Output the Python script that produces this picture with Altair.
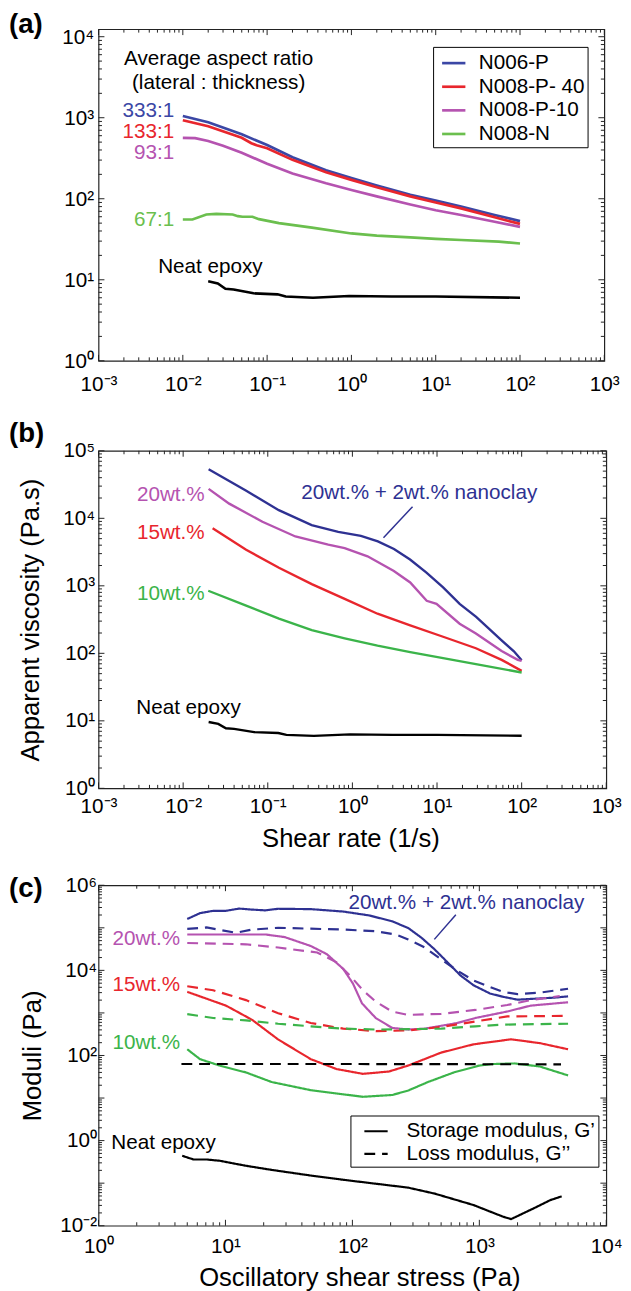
import altair as alt
import pandas as pd

FONT = "Liberation Sans"

# ---------------- colours ----------------
NAVY = "#2e3192"
BLUE_A = "#3b47a5"
RED = "#e8262d"
MAGENTA = "#b553b0"
GREEN_A = "#6bbf4e"
GREEN = "#3bb44a"
BLACK = "#000000"

# ---------------- panel (a): viscosity vs shear rate, aspect ratios ----------------
A_SERIES = ["N006-P", "N008-P- 40", "N008-P-10", "N008-N"]
A_COLORS = [BLUE_A, RED, MAGENTA, GREEN_A]

A_N006P_X = [0.01, 0.02, 0.05, 0.1, 0.2, 0.5, 1, 2, 5, 10, 20, 50, 100]
A_N006P_Y = [1050, 880, 625, 460, 325, 225, 180, 146, 112, 95, 80, 63, 53]
A_N008P40_X = [0.01, 0.02, 0.05, 0.065, 0.075, 0.1, 0.2, 0.5, 1, 2, 5, 10, 20, 50, 100]
A_N008P40_Y = [930, 785, 565, 485, 458, 420, 302, 212, 171, 139, 107, 90, 76, 59, 49]
A_N008P10_X = [0.01, 0.014, 0.02, 0.03, 0.05, 0.1, 0.2, 0.5, 1, 2, 5, 10, 20, 50, 100]
A_N008P10_Y = [565, 560, 515, 450, 370, 270, 205, 155, 128, 107, 85, 72, 63, 52, 45]
A_N008N_X = [0.01, 0.013, 0.019, 0.025, 0.039, 0.045, 0.051, 0.067, 0.08, 0.138, 0.34, 1, 2, 5, 10, 20, 56, 100]
A_N008N_Y = [55.4, 55.4, 64, 65, 64, 61, 60, 60, 56, 50, 44, 37.3, 35, 33.4, 32, 31, 29.6, 28]

NEAT_RATE = [0.02, 0.026, 0.032, 0.04, 0.069, 0.133, 0.166, 0.35, 0.94, 3, 10, 100]
NEAT_VISC = [9.6, 9.0, 7.75, 7.6, 6.8, 6.6, 6.2, 6.0, 6.3, 6.2, 6.2, 6.0]

A_X_TICKS = [1e-3, 1e-2, 1e-1, 1, 10, 100, 1000]
A_X_LABELS = ["10⁻³", "10⁻²", "10⁻¹", "10⁰", "10¹", "10²", "10³"]
A_Y_TICKS = [1, 10, 100, 1000, 10000]
A_Y_LABELS = ["10⁰", "10¹", "10²", "10³", "10⁴"]

A_NOTE_LINES = ["Average aspect ratio", "(lateral : thickness)"]
A_NOTE_X = [0.0266, 0.0266]
A_NOTE_Y = [5350, 2655]
A_RATIO_LABELS = ["333:1", "133:1", "93:1", "67:1"]
A_RATIO_X = 0.0079
A_RATIO_Y = [1203, 668, 367, 53.8]
A_NEAT_POS = (0.0051, 14.3)

# ---------------- panel (b): apparent viscosity ----------------
B_SERIES = ["20wt.% + 2wt.% nanoclay", "20wt.%", "15wt.%", "10wt.%"]
B_COLORS = [NAVY, MAGENTA, RED, GREEN]
B_NANO_X = [0.02, 0.055, 0.135, 0.33, 0.68, 1.26, 2.0, 3.1, 4.8, 7.5, 11.8, 18.5, 29, 41, 57.5, 81, 100]
B_NANO_Y = [53500, 25800, 13200, 7950, 6300, 5480, 4540, 3510, 2450, 1566, 948, 541, 346, 233, 157, 107, 79]
B_20_X = [0.02, 0.035, 0.0865, 0.212, 0.518, 0.81, 1.51, 3.09, 4.82, 7.55, 9.86, 18.5, 28.8, 58, 90, 100]
B_20_Y = [27300, 16500, 8900, 5380, 4070, 3620, 2740, 1660, 1120, 600, 541, 275, 197, 108, 80, 77]
B_15_X = [0.0223, 0.0555, 0.1355, 0.331, 0.81, 1.98, 4.82, 11.8, 28.8, 58, 100]
B_15_Y = [7110, 3430, 1850, 1058, 640, 386, 260, 176, 119, 80, 55]
B_10_X = [0.0198, 0.0555, 0.1355, 0.331, 0.81, 1.98, 4.82, 11.8, 28.8, 100]
B_10_Y = [845, 510, 327, 220, 167, 130, 104, 85, 69, 52]

B_Y_TICKS = [1, 10, 100, 1000, 10000, 100000]
B_Y_LABELS = ["10⁰", "10¹", "10²", "10³", "10⁴", "10⁵"]

B_LEFT_LABELS = ["20wt.%", "15wt.%", "10wt.%"]
B_LEFT_X = 0.01795
B_LEFT_Y = [22000, 6080, 764]
B_NANO_LABEL_POS = (0.249, 23300)
B_LEADER_X = [2.33, 5.14]
B_LEADER_Y = [5140, 14900]
B_NEAT_POS = (0.00279, 15.2)

# ---------------- panel (c): moduli vs oscillatory stress ----------------
C_SERIES = ["20wt.% + 2wt.% nanoclay", "20wt.%", "15wt.%", "10wt.%", "Neat epoxy"]
C_COLORS = [NAVY, MAGENTA, RED, GREEN, BLACK]
C_MODULI = ["Storage modulus, G’", "Loss modulus, G’’"]

C_NANO_GP_X = [5, 6.3, 8, 10.1, 12.8, 16.2, 20.6, 26, 46.8, 84.7, 136, 206, 275, 350, 443, 561, 710, 900, 1210, 1530, 2000, 3000, 4000, 5000]
C_NANO_GP_Y = [161000, 221000, 251000, 251000, 283000, 268000, 257000, 280000, 275000, 241000, 195000, 142000, 99000, 58500, 31400, 15500, 7600, 4470, 2870, 2400, 2050, 2190, 2300, 2450]
C_NANO_GPP_X = [5, 7.1, 12.1, 16.2, 26, 84.7, 153, 218, 275, 372, 499, 670, 900, 1210, 1530, 2000, 3000, 5000]
C_NANO_GPP_Y = [94700, 102000, 76400, 91000, 100000, 91000, 83000, 69800, 53500, 34300, 18400, 9890, 5800, 4070, 3130, 2760, 3000, 3700]
C_20_GP_X = [5, 20.6, 29.3, 47, 63, 84.7, 101, 119, 153, 206, 275, 372, 670, 930, 1660, 2540, 5000]
C_20_GP_Y = [69800, 69800, 60500, 37400, 24000, 10800, 4900, 1680, 755, 444, 407, 427, 580, 760, 1080, 1485, 1780]
C_20_GPP_X = [5, 14.5, 26, 52.8, 75, 95.5, 121, 153, 206, 275, 500, 930, 1660, 2540, 4300]
C_20_GPP_Y = [44000, 41000, 34400, 26300, 15500, 7600, 3410, 1840, 1070, 900, 950, 1175, 1535, 2000, 2480]
C_15_GP_X = [5, 10.1, 16.2, 26, 47, 75, 121, 194, 275, 500, 900, 1780, 3000, 5000]
C_15_GP_Y = [3130, 1485, 690, 238, 82, 48, 37, 42, 58, 117, 183, 240, 195, 140]
C_15_GPP_X = [5, 8, 14.5, 26, 47, 84.7, 153, 275, 500, 930, 1660, 5000]
C_15_GPP_Y = [4230, 3410, 2000, 986, 580, 428, 372, 389, 468, 630, 828, 855]
C_10_GP_X = [5, 6.3, 9, 14.5, 23.1, 47, 121, 206, 275, 394, 630, 1000, 1280, 1900, 3000, 5000]
C_10_GP_Y = [140, 82, 58, 40, 23.8, 15.3, 10.7, 11.8, 15, 23.8, 40, 58, 63, 65, 55, 34]
C_10_GPP_X = [5, 8, 14.5, 26, 47, 84.7, 153, 275, 500, 930, 1530, 5000]
C_10_GPP_Y = [935, 760, 668, 558, 485, 428, 407, 415, 428, 485, 531, 558]
C_NEAT_GP_X = [4.56, 5.6, 7.1, 9, 14.4, 23.1, 47, 84.7, 153, 275, 443, 900, 1530, 1780, 2710, 3630, 4450]
C_NEAT_GP_Y = [0.44, 0.36, 0.36, 0.336, 0.257, 0.205, 0.151, 0.12, 0.097, 0.0785, 0.057, 0.0306, 0.0164, 0.0143, 0.026, 0.040, 0.049]
C_NEAT_GPP_X = [4.5, 100, 4400]
C_NEAT_GPP_Y = [63, 63, 62]

C_X_TICKS = [1, 10, 100, 1000, 10000]
C_X_LABELS = ["10⁰", "10¹", "10²", "10³", "10⁴"]
C_Y_TICKS = [0.01, 1, 100, 10000, 1000000]
C_Y_LABELS = ["10⁻²", "10⁰", "10²", "10⁴", "10⁶"]

C_LEFT_LABELS = ["20wt.%", "15wt.%", "10wt.%"]
C_LEFT_X = 4.4
C_LEFT_Y = [53500, 4460, 200]
C_NANO_LABEL_POS = (93, 378000)
C_LEADER_X = [442, 653]
C_LEADER_Y = [53500, 202000]
C_NEAT_POS = (1.26, 0.89)

# ---------------- helpers ----------------
MAJ, MIN = 6, 3.5
TICK_COLOR = "#222222"
LEFT_PAD = -91  # panel letters sit at the page's left margin


def label_expr(ticks, labels):
    parts = [f"abs(datum.value / {t!r} - 1) < 1e-6 ? '{l}'" for t, l in zip(ticks, labels)]
    return " : ".join(parts) + " : ''"


def minor_ticks(lo_exp, hi_exp):
    return [k * 10.0 ** e for e in range(lo_exp, hi_exp) for k in range(2, 10)]


def major_ticks(lo_exp, hi_exp):
    return [10.0 ** e for e in range(lo_exp, hi_exp + 1)]


def label_axis(orient, ticks, labels, pad, title=None, **kw):
    return alt.Axis(orient=orient, values=ticks, labelExpr=label_expr(ticks, labels),
                    ticks=False, tickSize=0, domain=False, grid=False,
                    labelFont=FONT, labelFontSize=21, labelColor="black",
                    labelPadding=pad, labelOverlap=False, labelFlush=False,
                    title=title, titleFont=FONT, titleFontSize=26,
                    titleFontWeight="normal", titleColor="black", **kw)


class Panel:
    def __init__(self, xs, ys, ax, ay, W, H):
        self.xs, self.ys, self.ax, self.ay, self.W, self.H = xs, ys, ax, ay, W, H

    def X(self, field="x:Q"):
        return alt.X(field, scale=self.xs, axis=self.ax)

    def Y(self, field="y:Q"):
        return alt.Y(field, scale=self.ys, axis=self.ay)

    def ticks(self, xmaj, xmin, ymaj, ymin):
        out = []
        for vals, L in ((xmaj, MAJ), (xmin, MIN)):
            base = alt.Chart(pd.DataFrame({"x": vals})).mark_rule(color=TICK_COLOR, strokeWidth=1)
            out.append(base.encode(x=self.X(), y=alt.value(self.H), y2=alt.value(self.H - L)))
            out.append(base.encode(x=self.X(), y=alt.value(0), y2=alt.value(L)))
        for vals, L in ((ymaj, MAJ), (ymin, MIN)):
            base = alt.Chart(pd.DataFrame({"y": vals})).mark_rule(color=TICK_COLOR, strokeWidth=1)
            out.append(base.encode(y=self.Y(), x=alt.value(0), x2=alt.value(L)))
            out.append(base.encode(y=self.Y(), x=alt.value(self.W), x2=alt.value(self.W - L)))
        return out

    def texts(self, labels, xl, yl, align, color, size=21):
        df = pd.DataFrame({"label": labels, "x": xl, "y": yl})
        return alt.Chart(df).mark_text(align=align, baseline="middle", font=FONT,
                                       fontSize=size, color=color).encode(
            x=self.X(), y=self.Y(), text="label:N")

    def line(self, xl, yl, color, width):
        return alt.Chart(pd.DataFrame({"x": xl, "y": yl})).mark_line(
            strokeWidth=width, color=color).encode(x=self.X(), y=self.Y())


def panel_label(txt, dy):
    return alt.Chart(pd.DataFrame({"t": [txt]})).mark_text(
        align="left", baseline="middle", font=FONT, fontSize=28,
        fontWeight="bold", color="black").encode(
        text="t:N", x=alt.value(LEFT_PAD), y=alt.value(dy))


def spacer(dy, baseline):
    # invisible element that only sets the vertical extent of a panel
    return alt.Chart(pd.DataFrame({"t": ["."]})).mark_text(
        opacity=0, baseline=baseline, fontSize=6).encode(
        text="t:N", x=alt.value(0), y=alt.value(dy))


def sdf(xs, ys, name, **extra):
    d = pd.DataFrame({"x": xs, "y": ys, "series": name})
    for k, v in extra.items():
        d[k] = v
    return d


def boxed_legend(lx, ly, sym_offset, lab_offset, width, **kw):
    return alt.Legend(orient="none", legendX=lx, legendY=ly, title=None,
                      strokeColor="black", fillColor="white", padding=3,
                      symbolType="stroke", symbolSize=560, symbolStrokeWidth=width,
                      symbolOffset=sym_offset, labelOffset=lab_offset,
                      labelFont=FONT, labelFontSize=21, labelColor="black",
                      rowPadding=0, labelLimit=400, **kw)


# ---------------- panel (a) ----------------
WA, HA = 514, 337
PA = Panel(alt.Scale(type="log", domain=[1e-3, 1e3], nice=False),
           alt.Scale(type="log", domain=[1, 10 ** 4.093], nice=False),
           label_axis("bottom", A_X_TICKS, A_X_LABELS, 13),
           label_axis("left", A_Y_TICKS, A_Y_LABELS, 5, labelOffset=1),
           WA, HA)

df_a = pd.concat([
    sdf(A_N006P_X, A_N006P_Y, A_SERIES[0]),
    sdf(A_N008P40_X, A_N008P40_Y, A_SERIES[1]),
    sdf(A_N008P10_X, A_N008P10_Y, A_SERIES[2]),
    sdf(A_N008N_X, A_N008N_Y, A_SERIES[3]),
])

lines_a = alt.Chart(df_a).mark_line(strokeWidth=2.7).encode(
    x=PA.X(), y=PA.Y(),
    color=alt.Color("series:N", scale=alt.Scale(domain=A_SERIES, range=A_COLORS),
                    legend=boxed_legend(340, 18, 4.5, 12, 2.7)),
)

pa = alt.layer(
    lines_a,
    PA.line(NEAT_RATE, NEAT_VISC, BLACK, 2.6),
    PA.texts(A_NOTE_LINES, A_NOTE_X, A_NOTE_Y, "center", BLACK),
    *[PA.texts([A_RATIO_LABELS[i]], [A_RATIO_X], [A_RATIO_Y[i]], "right", A_COLORS[i]) for i in range(4)],
    PA.texts(["Neat epoxy"], [A_NEAT_POS[0]], [A_NEAT_POS[1]], "left", BLACK),
    panel_label("(a)", -4),
    spacer(HA + 39.5, "bottom"),
    *PA.ticks(major_ticks(-3, 3), minor_ticks(-3, 3), major_ticks(0, 4), minor_ticks(0, 4)),
).properties(width=WA, height=HA)

# ---------------- panel (b) ----------------
WB, HB = 516, 343
PB = Panel(alt.Scale(type="log", domain=[1e-3, 1e3], nice=False),
           alt.Scale(type="log", domain=[1, 1e5], nice=False),
           label_axis("bottom", A_X_TICKS, A_X_LABELS, 8, title="Shear rate (1/s)",
                      titleX=256, titleY=51, titleBaseline="middle"),
           label_axis("left", B_Y_TICKS, B_Y_LABELS, 4, labelOffset=0,
                      title="Apparent viscosity (Pa.s)", titleX=-69, titleY=HB / 2,
                      titleBaseline="middle", titleAngle=270),
           WB, HB)

df_b = pd.concat([
    sdf(B_NANO_X, B_NANO_Y, B_SERIES[0]),
    sdf(B_20_X, B_20_Y, B_SERIES[1]),
    sdf(B_15_X, B_15_Y, B_SERIES[2]),
    sdf(B_10_X, B_10_Y, B_SERIES[3]),
])
lines_b = alt.Chart(df_b).mark_line(strokeWidth=2.4).encode(
    x=PB.X(), y=PB.Y(),
    color=alt.Color("series:N", scale=alt.Scale(domain=B_SERIES, range=B_COLORS), legend=None),
)

pb = alt.layer(
    lines_b,
    PB.line(NEAT_RATE, NEAT_VISC, BLACK, 2.4),
    PB.line(B_LEADER_X, B_LEADER_Y, NAVY, 1.5),
    *[PB.texts([B_LEFT_LABELS[i]], [B_LEFT_X], [B_LEFT_Y[i]], "right", B_COLORS[i + 1]) for i in range(3)],
    PB.texts([B_SERIES[0]], [B_NANO_LABEL_POS[0]], [B_NANO_LABEL_POS[1]], "left", NAVY),
    PB.texts(["Neat epoxy"], [B_NEAT_POS[0]], [B_NEAT_POS[1]], "left", BLACK),
    panel_label("(b)", -16.7),
    *PB.ticks(major_ticks(-3, 3), minor_ticks(-3, 3), major_ticks(0, 5), minor_ticks(0, 5)),
).properties(width=WB, height=HB)

# ---------------- panel (c) ----------------
WC, HC = 516, 346
PC = Panel(alt.Scale(type="log", domain=[1, 1e4], nice=False),
           alt.Scale(type="log", domain=[1e-2, 1e6], nice=False),
           label_axis("bottom", C_X_TICKS, C_X_LABELS, 10, title="Oscillatory shear stress (Pa)",
                      titleX=265, titleY=53, titleBaseline="middle"),
           label_axis("left", C_Y_TICKS, C_Y_LABELS, 2, labelOffset=0,
                      title="Moduli (Pa)", titleX=-67, titleY=HC / 2,
                      titleBaseline="middle", titleAngle=270),
           WC, HC)

df_c = pd.concat([
    sdf(C_NANO_GP_X, C_NANO_GP_Y, C_SERIES[0], modulus=C_MODULI[0]),
    sdf(C_NANO_GPP_X, C_NANO_GPP_Y, C_SERIES[0], modulus=C_MODULI[1]),
    sdf(C_20_GP_X, C_20_GP_Y, C_SERIES[1], modulus=C_MODULI[0]),
    sdf(C_20_GPP_X, C_20_GPP_Y, C_SERIES[1], modulus=C_MODULI[1]),
    sdf(C_15_GP_X, C_15_GP_Y, C_SERIES[2], modulus=C_MODULI[0]),
    sdf(C_15_GPP_X, C_15_GPP_Y, C_SERIES[2], modulus=C_MODULI[1]),
    sdf(C_10_GP_X, C_10_GP_Y, C_SERIES[3], modulus=C_MODULI[0]),
    sdf(C_10_GPP_X, C_10_GPP_Y, C_SERIES[3], modulus=C_MODULI[1]),
    sdf(C_NEAT_GP_X, C_NEAT_GP_Y, C_SERIES[4], modulus=C_MODULI[0]),
    sdf(C_NEAT_GPP_X, C_NEAT_GPP_Y, C_SERIES[4], modulus=C_MODULI[1]),
])
lines_c = alt.Chart(df_c).mark_line(strokeWidth=2.2).encode(
    x=PC.X(), y=PC.Y(),
    color=alt.Color("series:N", scale=alt.Scale(domain=C_SERIES, range=C_COLORS), legend=None),
    strokeDash=alt.StrokeDash("modulus:N", scale=alt.Scale(domain=C_MODULI, range=[[1, 0], [11, 7]]),
                              legend=boxed_legend(256, 234, 10, 18, 2.2, symbolStrokeColor="black")),
)

pc = alt.layer(
    lines_c,
    PC.line(C_LEADER_X, C_LEADER_Y, NAVY, 1.5),
    *[PC.texts([C_LEFT_LABELS[i]], [C_LEFT_X], [C_LEFT_Y[i]], "right", C_COLORS[i + 1]) for i in range(3)],
    PC.texts([C_SERIES[0]], [C_NANO_LABEL_POS[0]], [C_NANO_LABEL_POS[1]], "left", NAVY),
    PC.texts(["Neat epoxy"], [C_NEAT_POS[0]], [C_NEAT_POS[1]], "left", BLACK),
    panel_label("(c)", 4),
    spacer(-14, "top"),
    *PC.ticks(major_ticks(0, 4), minor_ticks(0, 4), major_ticks(-2, 6), minor_ticks(-2, 6)),
).properties(width=WC, height=HC)

chart = alt.vconcat(pa, pb, pc, spacing=18.5).resolve_scale(
    color="independent", strokeDash="independent"
).properties(padding={"left": 0, "top": -8, "right": 0, "bottom": 0}, background="white"
).configure_view(stroke="#222", strokeWidth=1.2)

chart.save("out.html", embed_options={"renderer": "svg", "actions": False})
